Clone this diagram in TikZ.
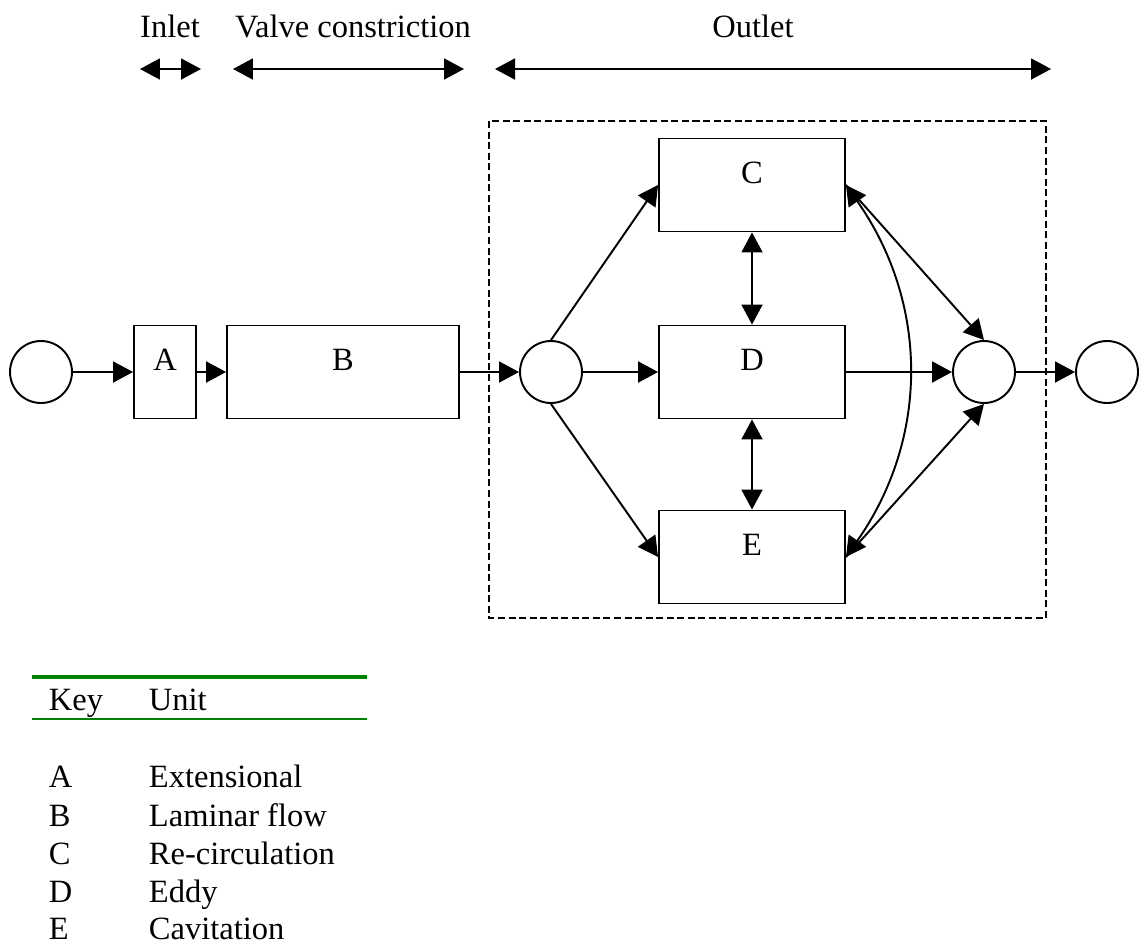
\documentclass[tikz,border=0pt]{standalone}
\usepackage{fontspec}
\setmainfont{Liberation Serif}
\usetikzlibrary{arrows.meta}
\definecolor{keygreen}{RGB}{0,128,0}

\begin{document}
\begin{tikzpicture}[x=0.02cm,y=-0.02cm,line width=1.1pt,
  font=\fontsize{18.5}{22}\selectfont,
  >={Triangle[length=0.4cm,width=0.42cm]},
  unitbox/.style={draw,minimum height=1.86cm,inner sep=0pt},
  tag/.style={anchor=base,yshift=-0.92cm},
  junction/.style={circle,draw,minimum size=1.24cm,inner sep=0pt},
  keytext/.style={anchor=base west,inner sep=0pt}]
  \useasboundingbox (0,0) rectangle (1139,947);

  % stretches of the valve
  \coordinate (inL) at (140,69);  \coordinate (inR) at (201,69);
  \coordinate (vcL) at (233,69);  \coordinate (vcR) at (464,69);
  \coordinate (outL) at (495,69); \coordinate (outR) at (1051,69);
  \draw[<->] (inL) -- (inR);   %inlet
  \draw[<->] (vcL) -- (vcR);   %constriction
  \draw[<->] (outL) -- (outR); %outlet
  \node[anchor=base] (inlet) at (170,37) {Inlet};
  \node[anchor=base] (valve) at (353,37) {Valve constriction};
  \node[anchor=base] (outlet) at (753,37) {Outlet};

  % outlet region
  \draw[dash pattern=on 4pt off 2pt,line width=0.9pt] (489,121) rectangle (1046,618);

  \node[junction] (src) at (41,372) {};
  \node[unitbox,minimum width=1.24cm,label={[tag]north:A}] (A) at (165,372) {};
  \node[unitbox,minimum width=4.64cm,label={[tag]north:B}] (B) at (343,372) {};
  \node[junction] (mix) at (551,372) {};
  \node[unitbox,minimum width=3.72cm,label={[tag]north:C}] (C) at (752,185) {};
  \node[unitbox,minimum width=3.72cm,label={[tag]north:D}] (D) at (752,372) {};
  \node[unitbox,minimum width=3.72cm,label={[tag]north:E}] (E) at (752,557) {};
  \node[junction] (join) at (984,372) {};
  \node[junction] (sink) at (1107,372) {};

  \draw[->] (src) -- (A);
  \draw[->] (A) -- (B);
  \draw[->] (B) -- (mix);
  \draw[->] (mix.north) -- (C.west);
  \draw[->] (mix) -- (D);
  \draw[->] (mix.south) -- (E.west);
  \draw[<->] (C) -- (D);
  \draw[<->] (D) -- (E);
  \draw[->] (C.east) -- (join.north);
  \draw[->] (D) -- (join);
  \draw[->] (E.east) -- (join.south);
  \draw[<->] (C.east) to[bend left=35] (E.east); %C to E
  \draw[->] (join) -- (sink);

  % key
  \draw[keygreen,line width=2.5pt] (32,677) -- (367,677);
  \draw[keygreen] (32,719) -- (367,719);
  \node[keytext] (keyhead) at (48,710) {Key};
  \node[keytext] (unithead) at (148,710) {Unit};
  \node[keytext] (kA) at (48,787) {A};  \node[keytext] (uA) at (148,787) {Extensional};
  \node[keytext] (kB) at (48,826) {B};  \node[keytext] (uB) at (148,826) {Laminar flow};
  \node[keytext] (kC) at (48,864) {C};  \node[keytext] (uC) at (148,864) {Re-circulation};
  \node[keytext] (kD) at (48,902) {D};  \node[keytext] (uD) at (148,902) {Eddy};
  \node[keytext] (kE) at (48,939) {E};  \node[keytext] (uE) at (148,939) {Cavitation};
\end{tikzpicture}
\end{document}
